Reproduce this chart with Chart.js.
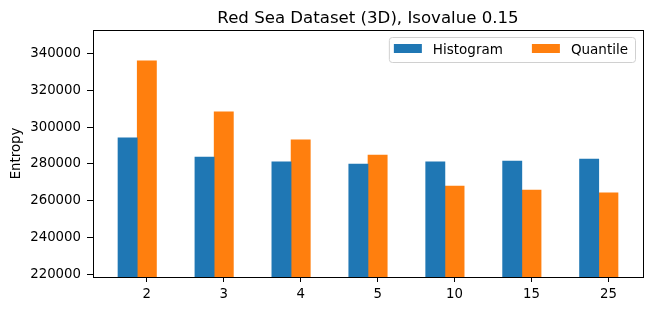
<!DOCTYPE html>
<html lang="en">
<head>
<meta charset="UTF-8">
<title>Red Sea Dataset (3D), Isovalue 0.15</title>
<script src="https://cdn.jsdelivr.net/npm/chart.js"></script>
<style>
  html, body { margin: 0; padding: 0; background: #fff; }
  #wrap { width: 651px; height: 311px; }
</style>
</head>
<body>
<div id="wrap"><canvas id="entropyChart"></canvas></div>
<script>
// data
const levels = ['2', '3', '4', '5', '10', '15', '25'];
const histogram = [294200, 283800, 281100, 280000, 281100, 281600, 282700];
const quantile = [336200, 308400, 293100, 284900, 268000, 265800, 264200];
const yTicks = [220000, 240000, 260000, 280000, 300000, 320000, 340000];

const chartTitle = 'Red Sea Dataset (3D), Isovalue 0.15';
const FONT = '"DejaVu Sans", sans-serif';

// box around the plot, title over the plot area, legend inside top right
const frame = {
  id: 'frame',
  afterDraw(chart) {
    const { ctx, chartArea: a } = chart;
    ctx.save();
    ctx.strokeStyle = '#000';
    ctx.lineWidth = 1;
    ctx.strokeRect(Math.round(a.left) + 0.5, Math.round(a.top) + 0.5,
      Math.round(a.right - a.left), Math.round(a.bottom - a.top));

    ctx.fillStyle = '#000';
    ctx.font = '16.6px ' + FONT;
    ctx.textAlign = 'center';
    ctx.textBaseline = 'alphabetic';
    ctx.fillText(chartTitle, (a.left + a.right) / 2, a.top - 7);

    // legend
    ctx.font = '13.5px ' + FONT;
    const sets = chart.data.datasets;
    const widths = sets.map(d => ctx.measureText(d.label).width);
    const patchW = 28, gap = 11, between = 29, padL = 5, padR = 7;
    let w = padL + padR;
    widths.forEach((tw, i) => { w += patchW + gap + tw + (i < widths.length - 1 ? between : 0); });
    const h = 25;
    const bx = a.right - 8 - w, by = a.top + 7;
    ctx.beginPath();
    ctx.roundRect(bx + 0.5, by + 0.5, w, h, 3);
    ctx.fillStyle = 'rgba(255,255,255,0.8)';
    ctx.fill();
    ctx.strokeStyle = '#d0d0d0';
    ctx.stroke();
    let x = bx + padL;
    sets.forEach((d, i) => {
      ctx.fillStyle = d.backgroundColor;
      ctx.fillRect(x, by + 7, patchW, 9);
      ctx.fillStyle = '#000';
      ctx.textAlign = 'left';
      ctx.textBaseline = 'middle';
      ctx.fillText(d.label, x + patchW + gap, by + h / 2 + 1);
      x += patchW + gap + widths[i] + between;
    });
    ctx.restore();
  }
};

new Chart(document.getElementById('entropyChart'), {
  type: 'bar',
  data: {
    datasets: [{
      label: 'Histogram',
      data: histogram.map((v, i) => ({ x: i - 0.25, y: v })),
      backgroundColor: '#1f77b4'
    }, {
      label: 'Quantile',
      data: quantile.map((v, i) => ({ x: i, y: v })),
      backgroundColor: '#ff7f0e'
    }]
  },
  options: {
    responsive: true,
    maintainAspectRatio: false,
    animation: false,
    datasets: {
      bar: { grouped: false, categoryPercentage: 1, barPercentage: 1 }
    },
    layout: { padding: { top: 30, right: 8, bottom: 0, left: 0 } },
    plugins: {
      legend: { display: false },
      title: { display: false },
      tooltip: { enabled: false }
    },
    scales: {
      x: {
        type: 'linear',
        offset: false,
        min: -0.7,
        max: 6.45,
        afterFit(scale) { scale.height = 34; },
        afterBuildTicks(scale) { scale.ticks = levels.map((_, i) => ({ value: i })); },
        border: { display: true, color: '#000', width: 1 },
        grid: { offset: false, drawOnChartArea: false, drawTicks: true, tickLength: 5, color: '#000' },
        ticks: {
          autoSkip: false,
          maxRotation: 0,
          padding: 5,
          color: '#000',
          font: { family: FONT, size: 13.3 },
          callback: v => levels[v] ?? ''
        }
      },
      y: {
        min: 218400,
        max: 353000,
        afterFit(scale) { scale.width = 93; },
        afterBuildTicks(scale) { scale.ticks = yTicks.map(v => ({ value: v })); },
        border: { display: true, color: '#000', width: 1 },
        grid: { drawOnChartArea: false, drawTicks: true, tickLength: 6, color: '#000' },
        title: {
          display: true,
          text: 'Entropy',
          color: '#000',
          font: { family: FONT, size: 13.3 },
          padding: { top: 9, bottom: 0 }
        },
        ticks: {
          padding: 6,
          color: '#000',
          font: { family: FONT, size: 13.3 },
          callback: v => String(v)
        }
      }
    }
  },
  plugins: [frame]
});
</script>
</body>
</html>
